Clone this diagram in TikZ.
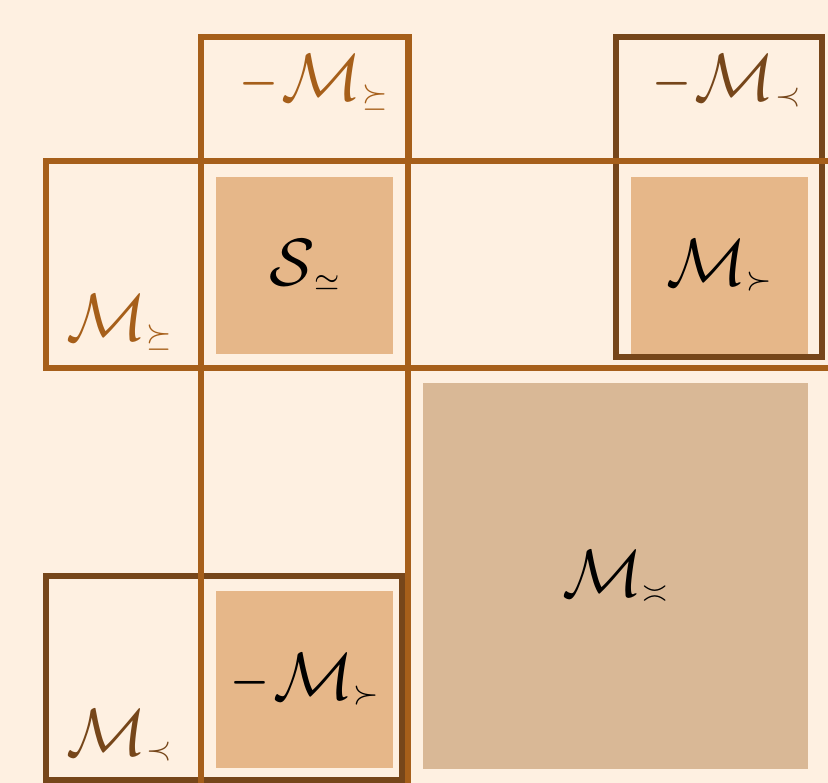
\RequirePackage{fix-cm}
\documentclass[tikz,border=0pt]{standalone}
\usepackage{amsmath,amssymb}
\usepackage{graphicx}
\usepackage{xcolor}
\usepackage{tikz}
\usetikzlibrary{positioning}
\definecolor{cream}{HTML}{FEF0E1}
\definecolor{rust}{HTML}{A65F1A}
\definecolor{umber}{HTML}{76461A}
\definecolor{paletan}{HTML}{E6B789}
\definecolor{sand}{HTML}{D9B896}
\newcommand{\srel}[1]{\raisebox{-1.4pt}{\small$#1$}}
\newcommand{\Msub}[1]{\mathcal{M}\srel{#1}}
\newcommand{\negsign}{\scalebox{0.75}[1]{$-$}\mkern1mu}

\begin{document}
\begin{tikzpicture}[x=0.01cm,y=-0.01cm,
  grid/.style={draw=rust,line width=1.7pt},
  frame/.style={draw=umber,line width=1.7pt},
  cell/.style={fill=#1,minimum size=1.77cm,inner sep=0pt,font=\fontsize{19}{23}\selectfont},cell/.default=paletan,
  lbl/.style={font=\fontsize{19}{23}\selectfont,text=#1,inner sep=0pt},lbl/.default=rust]
  \fill[cream] (0,0) rectangle (828,783);
  \useasboundingbox (0,0) rectangle (828,783);
  % filled cells
  \node[cell] (S) at (304.5,265.5) {$\mathcal{S}\srel{\simeq}$};
  \node[cell] (Mg) at (719.5,265.5) {$\Msub{\succ}$};
  \node[cell] (nMg) at (304.5,679.5) {$\negsign\Msub{\succ}$};
  \node[cell=sand,minimum size=3.85cm] (Masy) at (615.5,576) {$\Msub{\asymp}$};
  % dark frames
  \draw[frame] (616,37) rectangle (822,357);
  \draw[frame] (46,576) rectangle (402,780);
  % orange grid
  \draw[grid] (201,37) rectangle (409,161);
  \draw[grid] (46,161) rectangle (201,368);
  \draw[grid] (201,161) -- (828,161) (201,368) -- (828,368);
  \draw[grid] (201,37) -- (201,783) (408,37) -- (408,783);
  % corner labels
  \node[lbl,anchor=base east] (nMge) at (388,101) {$\negsign\Msub{\succeq}$};
  \node[lbl=umber,anchor=base east] (nMl) at (801,101) {$\negsign\Msub{\prec}$};
  \node[lbl,anchor=base west] (Mge) at (66,341) {$\Msub{\succeq}$};
  \node[lbl=umber,anchor=base west] (Ml) at (66,755) {$\Msub{\prec}$};
\end{tikzpicture}
\end{document}
